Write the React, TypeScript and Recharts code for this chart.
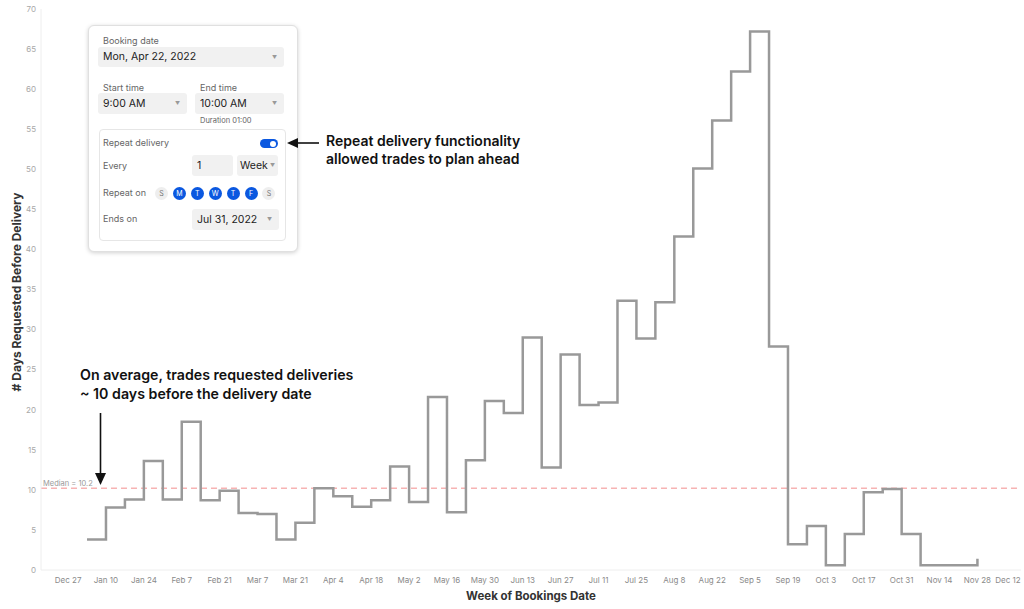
import React from 'react'
import { LineChart, Line, XAxis, YAxis, ReferenceLine } from 'recharts'

// weekly buckets, first point is week of Jan 3
const weekLabels = [
  'Dec 27', 'Jan 10', 'Jan 24', 'Feb 7', 'Feb 21', 'Mar 7', 'Mar 21', 'Apr 4', 'Apr 18',
  'May 2', 'May 16', 'May 30', 'Jun 13', 'Jun 27', 'Jul 11', 'Jul 25', 'Aug 8', 'Aug 22',
  'Sep 5', 'Sep 19', 'Oct 3', 'Oct 17', 'Oct 31', 'Nov 14', 'Nov 28', 'Dec 12',
]
const daysRequested = [
  3.8, 7.8, 8.8, 13.6, 8.8, 18.5, 8.7, 9.9, 7.1, 7.0, 3.8, 5.9, 10.2, 9.2, 7.9, 8.7,
  12.9, 8.5, 21.6, 7.2, 13.7, 21.1, 19.6, 29.0, 12.8, 26.9, 20.6, 20.9, 33.6, 28.9, 33.4,
  41.6, 50.1, 56.1, 62.2, 67.2, 27.9, 3.2, 5.5, 0.6, 4.5, 9.7, 10.1, 4.5, 0.6, 0.6, 0.6, 1.4,
]
const yTicks = [0, 5, 10, 15, 20, 25, 30, 35, 40, 45, 50, 55, 60, 65, 70]
const medianDays = 10.2
const repeatDays = ['S', 'M', 'T', 'W', 'T', 'F', 'S']

const data = daysRequested.map((d, i) => ({ week: i + 1, days: d }))
const xTicks = weekLabels.map((_, i) => i * 2)

const FONT = 'Inter, "Noto Sans", sans-serif'

function XTick({ x, y, payload }: any) {
  return (
    <text x={Math.min(x, 1008)} y={y} dy="0.71em" textAnchor="middle" fontSize={8} fill="#8a8a8a" fontFamily={FONT}>
      {weekLabels[payload.value / 2]}
    </text>
  )
}

const box = (left: number, top: number, width: number, height: number): React.CSSProperties => ({
  position: 'absolute', left, top, width, height,
})

function Label({ left, cy, size = 9, color = '#666', children }: any) {
  return (
    <div style={{ position: 'absolute', left, top: cy - 7, height: 14, lineHeight: '14px', fontSize: size, color, whiteSpace: 'nowrap' }}>
      {children}
    </div>
  )
}

function Select({ left, top, width, height, text, caret = true }: any) {
  return (
    <div style={{ ...box(left, top, width, height), background: '#f1f1f1', borderRadius: 3 }}>
      <div style={{ position: 'absolute', left: 5, top: 0, lineHeight: `${height}px`, fontSize: 10.5, color: '#222' }}>{text}</div>
      {caret && (
        <div style={{ position: 'absolute', right: 7, top: 0, lineHeight: `${height}px`, fontSize: 5, color: '#999' }}>▼</div>
      )}
    </div>
  )
}

function BookingPanel() {
  return (
    <div style={{ ...box(88, 25, 208, 225), background: '#fff', border: '1px solid #e0e0e0', borderRadius: 6, boxShadow: '0 1px 4px rgba(0,0,0,0.18)', fontFamily: FONT }}>
      <Label left={14} cy={15}>Booking date</Label>
      <Select left={9} top={21} width={186} height={20} text="Mon, Apr 22, 2022" />
      <Label left={14} cy={62}>Start time</Label>
      <Label left={111} cy={62}>End time</Label>
      <Select left={9} top={67} width={89} height={21} text="9:00 AM" />
      <Select left={106} top={67} width={89} height={21} text="10:00 AM" />
      <Label left={111} cy={95} size={7.5}>Duration 01:00</Label>
      <div style={{ ...box(10, 103, 185, 110), border: '1px solid #e6e6e6', borderRadius: 4 }} />
      <Label left={14} cy={117}>Repeat delivery</Label>
      <div style={{ ...box(171, 113, 18, 9), background: '#0b58e0', borderRadius: 5 }}>
        <div style={{ ...box(10, 1.5, 6, 6), background: '#fff', borderRadius: 3 }} />
      </div>
      <Label left={14} cy={140}>Every</Label>
      <Select left={103} top={129} width={41} height={21} text="1" caret={false} />
      <div style={{ ...box(148, 129, 41, 21), background: '#f1f1f1', borderRadius: 3 }}>
        <div style={{ position: 'absolute', left: 3, lineHeight: '21px', fontSize: 10.5, color: '#222' }}>Week</div>
        <div style={{ position: 'absolute', right: 3, lineHeight: '21px', fontSize: 5, color: '#999' }}>▼</div>
      </div>
      <Label left={14} cy={167}>Repeat on</Label>
      {repeatDays.map((d, i) => {
        const on = i > 0 && i < 6
        return (
          <div key={i} style={{ ...box(66 + i * 17.9, 160.5, 13, 13), borderRadius: 7, background: on ? '#0b58e0' : '#eeeeee', color: on ? '#fff' : '#777', fontSize: 7, lineHeight: '13px', textAlign: 'center' }}>
            {d}
          </div>
        )
      })}
      <Label left={14} cy={193}>Ends on</Label>
      <Select left={103} top={183} width={87} height={21} text="Jul 31, 2022" />
    </div>
  )
}

export default function App() {
  return (
    <div style={{ position: 'absolute', left: 0, top: 0, width: 1024, height: 609, background: '#fff', fontFamily: FONT }}>
      <LineChart width={1024} height={609} data={data} margin={{ top: 9, right: 3, bottom: 0, left: 0 }}>
        <XAxis
          dataKey="week"
          type="number"
          domain={[-1.43, 50.3]}
          ticks={xTicks}
          allowDataOverflow
          tick={<XTick />}
          tickLine={false}
          tickSize={0}
          tickMargin={7}
          height={39}
          axisLine={{ stroke: '#eeeeee' }}
        />
        <YAxis
          type="number"
          domain={[0, 70]}
          ticks={yTicks}
          width={41}
          tickLine={false}
          tickSize={0}
          tickMargin={5}
          tick={{ fontSize: 8, fill: '#a8a8a8', fontFamily: FONT }}
          axisLine={{ stroke: '#eeeeee' }}
        />
        <ReferenceLine
          y={medianDays}
          stroke="#f7b3b3"
          strokeWidth={1.5}
          strokeDasharray="6 4"
          label={{ value: `Median = ${medianDays}`, position: 'insideBottomLeft', offset: 2, fontSize: 7.5, fill: '#999', fontFamily: FONT }}
        />
        <Line
          type="stepAfter"
          dataKey="days"
          stroke="#999999"
          strokeWidth={2.5}
          dot={false}
          isAnimationActive={false}
        />
      </LineChart>

      <div style={{ position: 'absolute', left: 16, top: 292, transform: 'translate(-50%, -50%) rotate(-90deg)', fontSize: 12, fontWeight: 700, color: '#333', whiteSpace: 'nowrap' }}>
        # Days Requested Before Delivery
      </div>
      <div style={{ position: 'absolute', left: 531, top: 596, transform: 'translate(-50%, -50%)', fontSize: 11.5, fontWeight: 700, color: '#333', whiteSpace: 'nowrap' }}>
        Week of Bookings Date
      </div>

      <div style={{ position: 'absolute', left: 80, top: 366, fontSize: 14.2, fontWeight: 600, lineHeight: '18.5px', color: '#111', whiteSpace: 'nowrap' }}>
        On average, trades requested deliveries<br />~ 10 days before the delivery date
      </div>
      <div style={{ position: 'absolute', left: 326, top: 132, fontSize: 14, fontWeight: 600, lineHeight: '17.6px', color: '#111', whiteSpace: 'nowrap' }}>
        Repeat delivery functionality<br />allowed trades to plan ahead
      </div>

      <BookingPanel />

      <svg width={1024} height={609} style={{ position: 'absolute', left: 0, top: 0, pointerEvents: 'none' }}>
        <line x1={100.5} y1={413} x2={100.5} y2={474} stroke="#111" strokeWidth={1.6} />
        <polygon points="95,473 106,473 100.5,485" fill="#111" />
        <line x1={319} y1={143} x2={297} y2={143} stroke="#111" strokeWidth={1.6} />
        <polygon points="298,138 298,148 287,143" fill="#111" />
      </svg>
    </div>
  )
}
